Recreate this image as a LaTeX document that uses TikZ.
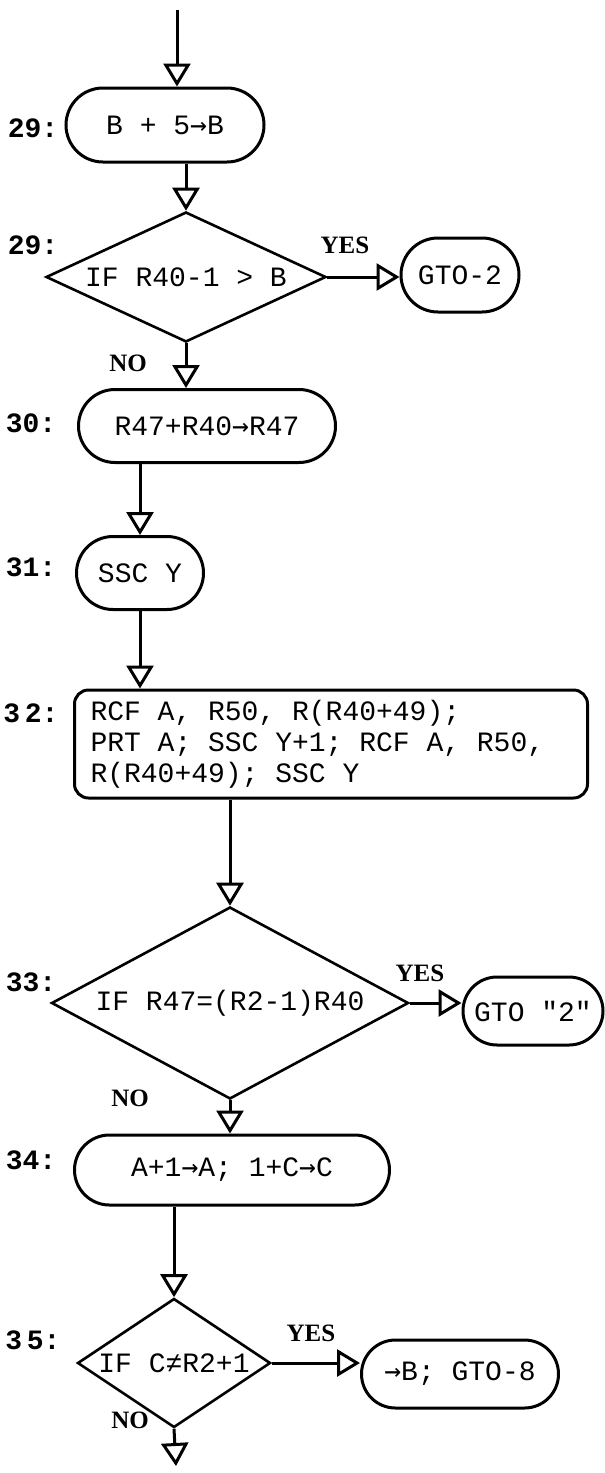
\documentclass[tikz,border=0pt]{standalone}
\usepackage{fontspec}
\setmainfont{Liberation Serif}
\setmonofont{Liberation Mono}[WordSpace={1,0,0}]
\newfontfamily\arrfont{DejaVu Sans Mono}
\newcommand\toarr{{\arrfont →}}
\usetikzlibrary{arrows.meta,shapes.geometric,shapes.misc}

\begin{document}
\begin{tikzpicture}[x=1pt,y=-1pt,
  every node/.style={font=\fontsize{28}{31}\selectfont\ttfamily},
  term/.style={draw,rounded rectangle,line width=3pt,inner sep=4pt},
  cmd/.style={draw,rounded corners=14pt,line width=3pt,align=left,inner xsep=16pt,
    execute at begin node={\spaceskip=0pt\relax}},
  test/.style={draw,diamond,line width=2.6pt,inner sep=0pt},
  stepno/.style={font=\fontsize{28}{31}\selectfont\ttfamily\bfseries},
  yn/.style={font=\fontsize{25}{27}\selectfont\rmfamily\bfseries},
  ar/.style={-{Triangle[open,length=23pt,width=27pt]},line width=3pt}]
\useasboundingbox (0,0) rectangle (605,1473);
\coordinate (in) at (177,10);
\node[term,minimum width=206pt,minimum height=74pt] (n29) at (165,125) {B + 5\toarr B};
\node[test,shape aspect=2.15,minimum width=280pt,minimum height=130pt] (d29) at (186,277) {IF R40-1 > B};
\node[term,minimum width=126pt,minimum height=74pt] (g29) at (460,275) {GTO-2};
\node[term,minimum width=265pt,minimum height=73pt] (n30) at (207,426) {R47+R40\toarr R47};
\node[term,minimum width=135pt,minimum height=73pt] (n31) at (140,573) {SSC Y};
\node[cmd,minimum width=513pt,minimum height=108pt,text width=481pt] (n32) at (331,744) {RCF A, R50, R(R40+49);\\PRT A; SSC Y+1; RCF A, R50,\\R(R40+49); SSC Y};
\node[test,shape aspect=1.86,minimum width=357pt,minimum height=192pt] (d33) at (230,1003) {IF R47=(R2-1)R40};
\node[term,minimum width=148pt,minimum height=68pt] (g33) at (533,1011) {GTO "2"};
\node[term,minimum width=323pt,minimum height=70pt] (n34) at (232,1170) {A+1\toarr A; 1+C\toarr C};
\node[test,shape aspect=1.5,minimum width=193pt,minimum height=129pt] (d35) at (174,1363) {IF C≠R2+1};
\node[term,minimum width=205pt,minimum height=68pt] (g35) at (460,1374) {\toarr B; GTO-8};
\coordinate (out) at (176,1466);
% step numbers
\node[stepno] (l29a) at (33,128) {29:};
\node[stepno] (l29b) at (33,245) {29:};
\node[stepno] (l30) at (31,423) {30:};
\node[stepno] (l31) at (31,567) {31:};
\node[stepno] (l32) at (31,713) {3\,2:};
\node[stepno] (l33) at (31,982) {33:};
\node[stepno] (l34) at (31,1160) {34:};
\node[stepno] (l35) at (33,1340) {3\,5:};
% branch labels
\node[yn] (y29) at (345,245) {YES};
\node[yn] (no29) at (128,363) {NO};
\node[yn] (y33) at (420,973) {YES};
\node[yn] (no33) at (130,1098) {NO};
\node[yn] (y35) at (311,1333) {YES};
\node[yn] (no35) at (130,1420) {NO};
\draw[ar] (in) -- (in |- n29.north);
\draw[ar] (n29.south -| d29.north) -- (d29.north);
\draw[ar] (d29.east) -- (d29.east -| g29.west);
\draw[ar] (d29.south) -- (d29.south |- n30.north);
\draw[ar] (n31.north |- n30.south) -- (n31.north);
\draw[ar] (n31.south) -- (n31.south |- n32.north);
\draw[ar] (d33.north |- n32.south) -- (d33.north);
\draw[ar] (d33.east) -- (d33.east -| g33.west);
\draw[ar] (d33.south) -- (d33.south |- n34.north);
\draw[ar] (d35.north |- n34.south) -- (d35.north);
\draw[ar] (d35.east) -- (d35.east -| g35.west);
\draw[ar] (d35.south) -- (out);
\end{tikzpicture}
\end{document}
